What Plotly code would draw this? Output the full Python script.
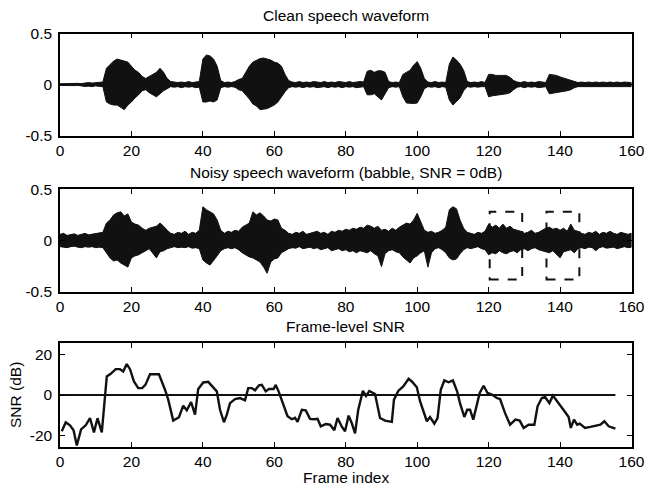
import plotly.graph_objects as go

# ---------------- data ----------------
x_wave = list(range(161))

clean_upper = [0.008, 0.01, 0.008, 0.01, 0.01, 0.012, 0.01, 0.018, 0.02, 0.015, 0.02, 0.018, 0.025,
               0.16, 0.2, 0.23, 0.25, 0.24, 0.23, 0.22, 0.18, 0.14, 0.12, 0.08, 0.06, 0.08, 0.1, 0.12, 0.16, 0.12,
               0.06, 0.03, 0.025, 0.02, 0.025, 0.02, 0.03, 0.02, 0.025, 0.03,
               0.25, 0.29, 0.28, 0.25, 0.18, 0.04, 0.02, 0.025, 0.02, 0.03, 0.05,
               0.06, 0.12, 0.18, 0.22, 0.24, 0.255, 0.26, 0.25, 0.24, 0.22, 0.21, 0.18, 0.1, 0.04,
               0.025, 0.02, 0.03, 0.02, 0.025, 0.02, 0.03, 0.025, 0.02, 0.03, 0.02, 0.025, 0.02, 0.03, 0.025,
               0.02, 0.03, 0.02, 0.025, 0.03, 0.025,
               0.13, 0.14, 0.12, 0.135, 0.135, 0.12, 0.03, 0.02, 0.025, 0.02,
               0.1, 0.12, 0.14, 0.19, 0.225, 0.16, 0.06, 0.025, 0.02, 0.03, 0.02, 0.025, 0.02,
               0.2, 0.27, 0.24, 0.2, 0.14, 0.03, 0.02, 0.025, 0.02, 0.03, 0.02,
               0.1, 0.1, 0.09, 0.09, 0.09, 0.09, 0.07, 0.04, 0.025, 0.02, 0.03, 0.02, 0.025, 0.02, 0.03, 0.025, 0.02,
               0.1, 0.095, 0.09, 0.075, 0.065, 0.05, 0.04, 0.03,
               0.02, 0.025, 0.02, 0.025, 0.02, 0.025, 0.02, 0.025, 0.02, 0.025, 0.02, 0.025, 0.02, 0.025, 0.02, 0.02]

clean_lower = [-0.008, -0.008, -0.01, -0.008, -0.01, -0.008, -0.01, -0.018, -0.015, -0.02, -0.012, -0.018, -0.02,
               -0.17, -0.19, -0.2, -0.2, -0.22, -0.245, -0.2, -0.17, -0.13, -0.1, -0.06, -0.05, -0.08, -0.1, -0.12,
               -0.09, -0.06, -0.04, -0.02, -0.025, -0.02, -0.03, -0.02, -0.025, -0.02, -0.03, -0.025,
               -0.17, -0.17, -0.16, -0.17, -0.15, -0.03, -0.02, -0.025, -0.02, -0.025, -0.05,
               -0.06, -0.1, -0.14, -0.19, -0.21, -0.245, -0.24, -0.235, -0.22, -0.2, -0.17, -0.12, -0.07, -0.03,
               -0.02, -0.025, -0.02, -0.03, -0.02, -0.025, -0.02, -0.03, -0.025, -0.02, -0.03, -0.02, -0.025,
               -0.02, -0.03, -0.02, -0.025, -0.02, -0.03, -0.025, -0.02,
               -0.1, -0.1, -0.09, -0.12, -0.15, -0.09, -0.03, -0.02, -0.025, -0.02,
               -0.12, -0.18, -0.185, -0.185, -0.18, -0.12, -0.04, -0.02, -0.025, -0.02, -0.03, -0.02, -0.025,
               -0.15, -0.2, -0.17, -0.13, -0.06, -0.02, -0.025, -0.02, -0.025, -0.02, -0.02,
               -0.12, -0.11, -0.1, -0.1, -0.095, -0.09, -0.08, -0.05, -0.025, -0.02, -0.03, -0.02, -0.025, -0.02,
               -0.03, -0.025, -0.02,
               -0.09, -0.085, -0.08, -0.07, -0.065, -0.06, -0.05, -0.03,
               -0.02, -0.025, -0.02, -0.025, -0.02, -0.025, -0.02, -0.025, -0.02, -0.025, -0.02, -0.025, -0.02,
               -0.025, -0.02, -0.02]

noisy_upper = [0.06, 0.07, 0.05, 0.06, 0.065, 0.05, 0.06, 0.07, 0.055, 0.06, 0.065, 0.07, 0.08,
               0.17, 0.2, 0.25, 0.27, 0.28, 0.24, 0.26, 0.18, 0.16, 0.15, 0.12, 0.1, 0.12, 0.13, 0.14, 0.17, 0.14,
               0.1, 0.07, 0.06, 0.08, 0.07, 0.09, 0.06, 0.08, 0.07, 0.1,
               0.33, 0.3, 0.28, 0.26, 0.2, 0.1, 0.07, 0.09, 0.08, 0.1,
               0.09, 0.13, 0.15, 0.17, 0.28, 0.25, 0.27, 0.24, 0.2, 0.19,
               0.21, 0.2, 0.12, 0.1, 0.07, 0.06, 0.08, 0.07, 0.09, 0.06,
               0.07, 0.08, 0.09, 0.07, 0.08, 0.06, 0.09, 0.08, 0.1, 0.09,
               0.11, 0.1, 0.12, 0.11, 0.13, 0.12, 0.15, 0.14, 0.12, 0.14,
               0.1, 0.11, 0.09, 0.12, 0.1, 0.13, 0.15, 0.17, 0.16, 0.2,
               0.265, 0.18, 0.1, 0.08, 0.09, 0.07, 0.08, 0.1, 0.13, 0.3,
               0.33, 0.31, 0.2, 0.12, 0.08, 0.07, 0.06, 0.08, 0.07, 0.09,
               0.16, 0.13, 0.15, 0.12, 0.16, 0.12, 0.14, 0.11, 0.1, 0.09,
               0.07, 0.08, 0.1, 0.07, 0.08, 0.1, 0.12, 0.13, 0.11, 0.12,
               0.1, 0.12, 0.09, 0.16, 0.1, 0.09, 0.07, 0.06, 0.08, 0.07,
               0.09, 0.06, 0.08, 0.07, 0.09, 0.07, 0.06, 0.08, 0.07, 0.06, 0.07]

noisy_lower = [-0.06, -0.065, -0.07, -0.06, -0.055, -0.065, -0.07, -0.06, -0.065, -0.06, -0.07, -0.065, -0.07,
               -0.12, -0.17, -0.2, -0.19, -0.22, -0.24, -0.26, -0.17, -0.15, -0.14, -0.12, -0.1, -0.08, -0.12,
               -0.17, -0.11, -0.1,
               -0.08, -0.07, -0.06, -0.07, -0.065, -0.07, -0.06, -0.075, -0.07, -0.08,
               -0.19, -0.22, -0.24, -0.19, -0.15, -0.1, -0.08, -0.07, -0.08, -0.07,
               -0.09, -0.12, -0.14, -0.16, -0.17, -0.19, -0.21, -0.26, -0.32, -0.21,
               -0.18, -0.17, -0.12, -0.1, -0.08, -0.07, -0.075, -0.06, -0.08, -0.07,
               -0.065, -0.08, -0.07, -0.09, -0.08, -0.07, -0.1, -0.09, -0.08, -0.1,
               -0.09, -0.11, -0.1, -0.12, -0.1, -0.11, -0.12, -0.1, -0.13, -0.15,
               -0.255, -0.13, -0.1, -0.09, -0.11, -0.12, -0.16, -0.19, -0.22, -0.17,
               -0.15, -0.12, -0.1, -0.26, -0.12, -0.08, -0.07, -0.09, -0.12, -0.17,
               -0.19, -0.18, -0.13, -0.09, -0.07, -0.08, -0.07, -0.06, -0.08, -0.09,
               -0.14, -0.12, -0.13, -0.1, -0.12, -0.13, -0.11, -0.1, -0.12, -0.09,
               -0.08, -0.1, -0.08, -0.07, -0.09, -0.1, -0.11, -0.12, -0.1, -0.13,
               -0.17, -0.11, -0.1, -0.09, -0.12, -0.08, -0.07, -0.08, -0.065, -0.07,
               -0.1, -0.07, -0.06, -0.075, -0.07, -0.065, -0.08, -0.07, -0.06, -0.07, -0.065]

# highlighted low-SNR regions in the noisy waveform
box_x0 = [120.3, 136.2]
box_x1 = [129.4, 145.4]
box_y0 = [-0.38, -0.38]
box_y1 = [0.28, 0.28]

snr_frame = [0.5, 1.6, 2.8, 3.8, 4.7, 5.9, 7.2, 8.4, 9.5, 10.5, 11.7, 13.1, 14.2, 15.6, 16.8, 17.7, 18.7, 19.6,
             20.7, 21.9, 23, 23.9, 25.2, 26.6, 27.7, 29.4, 30.3, 31.7, 33.3, 34.5, 35.5, 36.7, 37.8, 38.7, 40.1,
             41.5, 42.7, 43.9, 44.8, 45.9, 46.7, 47.6, 49, 50.4, 51.8, 52.7, 53.7, 54.6, 55.7, 56.5, 57.6, 58.5,
             59.8, 60.4, 61.2, 62.3, 63.7, 64.9, 65.8, 66.5, 67.7, 68.8, 70, 71.2, 72.1, 73, 74.4, 75.6, 76.8,
             77.7, 78.9, 79.8, 80.8, 81.7, 82.6, 83.5, 84.8, 85.7, 86.6, 88.2, 89.6, 91, 92.9, 93.5, 94.7, 96.1,
             97.6, 98.5, 99.9, 100.8, 101.7, 102.7, 103.6, 104.8, 105.7, 106.6, 107.6, 108.8, 110, 111.2, 112,
             113.2, 114, 114.8, 115.7, 117.5, 118.6, 119.7, 120.9, 122.3, 123.2, 124.6, 126, 127.5, 128.7, 129.8,
             131.2, 132.8, 133.7, 134.9, 135.8, 137, 138, 139.1, 140.2, 141.5, 142.4, 143, 143.9, 144.8, 145.5,
             147, 148.5, 149.9, 151.3, 152.4, 153.6, 155.5]
snr_db = [-18, -13.5, -15, -17.5, -25, -17, -15, -11.4, -18.5, -11.5, -18.5, 9.2, 10.5, 12.8, 12.8, 11.7, 15.3,
          12.8, 6.7, 3.4, 3.4, 5, 10.3, 10.3, 10.3, 2.6, -2.3, -12.7, -11, -5.3, -7.6, -3.5, -9.7, 3, 6.2, 6.5,
          4.3, 1.8, -7.3, -13.5, -9.7, -4, -2, -1.5, -2.6, 3.4, 3.4, 2.3, 4.8, 5, 1.8, 3, 3, 5, 1.8, -4, -10.5,
          -12, -11.3, -13.3, -7.3, -7.6, -11.8, -12, -11.8, -15.5, -14.4, -14.7, -17.4, -11.4, -15.7, -18,
          -10.2, -14, -19, -7.3, 2.1, -0.5, 2, 0.5, -11.4, -12.7, -13.3, -2.3, 2, 4.2, 8, 6.7, 3.8, -3.1, -7.3,
          -13, -10.9, -14.2, -11.4, 2.6, 7.2, 6.3, 7.2, 1.7, -4.2, -10.9, -7.3, -7.3, -12.2, 1, 4.6, 1, 0.2,
          -1.5, -2, -9, -14.7, -12.2, -12.7, -16.3, -14.7, -14.7, -5.6, -1.5, -1, -4, -0.3, -3.1, -6, -8.7,
          -10.9, -16.3, -12.2, -14.7, -14.2, -16.3, -15.8, -15.2, -14.7, -13, -15.5, -16.6]
snr_threshold = 0

x_ticks = [0, 20, 40, 60, 80, 100, 120, 140, 160]
wave_ticks = [-0.5, 0, 0.5]
wave_ticktext = ['-0.5', '0', '0.5']
snr_ticks = [-20, 0, 20]
snr_ticktext = ['-20', '0', '20']

titles = ['Clean speech waveform', 'Noisy speech waveform (babble, SNR = 0dB)', 'Frame-level SNR']

# ---------------- figure ----------------
W, H = 646, 490
FONT = 'Liberation Sans, Arial, Helvetica, sans-serif'
FS = 15.5
INK = '#111111'


def py(p):
    return 1 - p / H


fig = go.Figure()

for up, lo, xa, ya in [(clean_upper, clean_lower, 'x', 'y'), (noisy_upper, noisy_lower, 'x2', 'y2')]:
    fig.add_trace(go.Scatter(
        x=x_wave + x_wave[::-1], y=up + lo[::-1], mode='lines', fill='toself',
        fillcolor=INK, line=dict(color=INK, width=1), xaxis=xa, yaxis=ya,
        showlegend=False, hoverinfo='skip'))

fig.add_trace(go.Scatter(x=[snr_frame[0] - 0.5, snr_frame[-1]], y=[snr_threshold, snr_threshold],
                         mode='lines', line=dict(color=INK, width=2.2), xaxis='x3', yaxis='y3',
                         showlegend=False, hoverinfo='skip'))
fig.add_trace(go.Scatter(x=snr_frame, y=snr_db, mode='lines', line=dict(color=INK, width=2.4),
                         xaxis='x3', yaxis='y3', showlegend=False))

for i in range(len(box_x0)):
    fig.add_shape(type='rect', xref='x2', yref='y2', x0=box_x0[i], x1=box_x1[i], y0=box_y0[i], y1=box_y1[i],
                  line=dict(color=INK, width=2, dash='dash'))

axis_common = dict(showline=True, linecolor='black', linewidth=1.5, mirror='ticks', ticks='inside',
                   ticklen=5, tickwidth=1, tickcolor='black', showgrid=False, zeroline=False,
                   automargin=False, tickfont=dict(family=FONT, size=FS, color='black'))

xdom = [60 / W, 631.5 / W]
ydoms = [[py(135.7), py(33.5)], [py(291.7), py(189.3)], [py(446.7), py(343.3)]]

layout = dict(width=W, height=H, margin=dict(l=0, r=0, t=0, b=0, autoexpand=False),
              paper_bgcolor='white', plot_bgcolor='white',
              font=dict(family=FONT, size=FS, color='black'))
for k, sfx in enumerate(['', '2', '3']):
    layout['xaxis' + sfx] = dict(axis_common, domain=xdom, range=[0, 160], tickvals=x_ticks,
                                 anchor='y' + sfx)
    if k < 2:
        layout['yaxis' + sfx] = dict(axis_common, domain=ydoms[k], range=[-0.5, 0.5], tickvals=wave_ticks,
                                     ticktext=wave_ticktext, anchor='x' + sfx, ticklabelstandoff=3)
    else:
        layout['yaxis' + sfx] = dict(axis_common, domain=ydoms[k], range=[-25.6, 25.6], tickvals=snr_ticks,
                                     ticktext=snr_ticktext, anchor='x' + sfx, ticklabelstandoff=3)
fig.update_layout(**layout)

title_y = [16, 172, 326]
for t, yy in zip(titles, title_y):
    fig.add_annotation(text=t, x=(xdom[0] + xdom[1]) / 2, y=py(yy), xref='paper', yref='paper',
                       showarrow=False, xanchor='center', yanchor='middle',
                       font=dict(family=FONT, size=FS, color='black'))

fig.add_annotation(text='Frame index', x=(xdom[0] + xdom[1]) / 2, y=py(477), xref='paper', yref='paper',
                   showarrow=False, xanchor='center', yanchor='middle', font=dict(family=FONT, size=FS))
fig.add_annotation(text='SNR (dB)', x=15 / W, y=py(395), xref='paper', yref='paper', textangle=-90,
                   showarrow=False, xanchor='center', yanchor='middle', font=dict(family=FONT, size=FS))

fig.write_html('out.html', config={'displayModeBar': False},
               post_script="document.body.style.margin='0';document.body.style.overflow='hidden';")
